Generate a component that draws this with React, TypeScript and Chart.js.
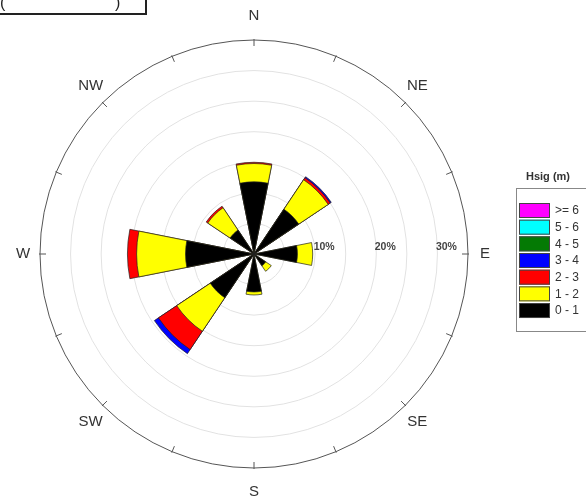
import React, { useEffect, useRef } from 'react';
import { Chart, registerables } from 'chart.js';

Chart.register(...registerables);

// ---- data ----
const directions = ['N', 'NE', 'E', 'SE', 'S', 'SW', 'W', 'NW'];
const sectorLabels = ['N', 'NNE', 'NE', 'ENE', 'E', 'ESE', 'SE', 'SSE', 'S', 'SSW', 'SW', 'WSW', 'W', 'WNW', 'NW', 'NNW'];
const classLabels = ['0 - 1', '1 - 2', '2 - 3', '3 - 4', '4 - 5', '5 - 6', '>= 6'];
const classColors = ['#000000', '#FFFF00', '#FF0000', '#0000FF', '#047A04', '#00FFFF', '#FF00FF'];
// percent of occurrence per direction (N, NE, E, SE, S, SW, W, NW)
const hs0to1 = [11.8, 8.8, 7.1, 2.3, 6.2, 8.6, 11.2, 4.7];
const hs1to2 = [3.0, 5.8, 2.5, 1.1, 0.5, 6.6, 8.0, 4.4];
const hs2to3 = [0.2, 0.4, 0, 0, 0, 3.6, 1.5, 0.3];
const hs3to4 = [0, 0.2, 0, 0, 0, 0.8, 0, 0];
const hs4to5 = [0, 0, 0, 0, 0, 0, 0, 0];
const hs5to6 = [0, 0, 0, 0, 0, 0, 0, 0];
const hs6plus = [0, 0, 0, 0, 0, 0, 0, 0];
const percentTicks = [10, 20, 30];
const rMax = 35;
const legendTitle = 'Hsig (m)';

const classValues = [hs0to1, hs1to2, hs2to3, hs3to4, hs4to5, hs5to6, hs6plus];

const FONT = '"Liberation Sans", Arial, Helvetica, sans-serif';

function buildDatasets() {
  return classValues.map((vals, c) => {
    const data: number[] = [];
    directions.forEach((_, d) => {
      let cum = 0;
      for (let k = 0; k <= c; k++) cum += classValues[k][d];
      data.push(vals[d] > 0 ? cum : 0);
      data.push(0);
    });
    return {
      label: classLabels[c],
      data,
      backgroundColor: classColors[c],
      borderColor: '#222222',
      borderWidth: 0.7,
    };
  });
}

const decorPlugin = {
  id: 'roseDecor',
  afterDraw(chart: any) {
    const ctx = chart.ctx as CanvasRenderingContext2D;
    const s = chart.scales.r;
    const cx = s.xCenter;
    const cy = s.yCenter;
    const R = s.drawingArea;
    ctx.save();
    // outer ticks every 22.5 deg
    ctx.strokeStyle = '#555';
    ctx.lineWidth = 1;
    for (let k = 0; k < 16; k++) {
      const a = (k * Math.PI) / 8;
      const sx = Math.sin(a);
      const sy = -Math.cos(a);
      ctx.beginPath();
      ctx.moveTo(cx + sx * (R + 1), cy + sy * (R + 1));
      ctx.lineTo(cx + sx * (R - 6), cy + sy * (R - 6));
      ctx.stroke();
    }
    // compass labels
    ctx.fillStyle = '#333';
    ctx.font = `15px ${FONT}`;
    ctx.textAlign = 'center';
    ctx.textBaseline = 'middle';
    directions.forEach((d, i) => {
      const a = (i * Math.PI) / 4;
      ctx.fillText(d, cx + Math.sin(a) * 231, cy - Math.cos(a) * 238);
    });
    // percent labels
    ctx.font = `bold 10.5px ${FONT}`;
    ctx.fillStyle = '#444';
    percentTicks.forEach((v) => {
      const r = s.getDistanceFromCenterForValue(v);
      ctx.fillText(`${v}%`, cx + r + 9, cy - 7);
    });
    // legend
    ctx.font = `bold 11px ${FONT}`;
    ctx.fillStyle = '#333';
    ctx.fillText(legendTitle, 548, 177);
    ctx.strokeStyle = '#888';
    ctx.strokeRect(516.5, 188.5, 90, 143);
    ctx.textAlign = 'left';
    ctx.font = `12px ${FONT}`;
    for (let i = 0; i < classLabels.length; i++) {
      const c = classLabels.length - 1 - i;
      const y = 203 + i * 16.67;
      ctx.fillStyle = classColors[c];
      ctx.fillRect(519, y, 31, 15);
      ctx.strokeStyle = '#444';
      ctx.strokeRect(519.5, y + 0.5, 30, 14);
      ctx.fillStyle = '#333';
      ctx.fillText(classLabels[c], 555, y + 8);
    }
    ctx.restore();
  },
};

export default function App() {
  const ref = useRef<HTMLCanvasElement>(null);
  useEffect(() => {
    document.body.style.margin = '0';
    const chart = new Chart(ref.current as HTMLCanvasElement, {
      type: 'polarArea',
      data: { labels: sectorLabels, datasets: buildDatasets() as any },
      options: {
        responsive: false,
        animation: false,
        layout: { padding: { left: 40, right: 118, top: 40, bottom: 32 } },
        plugins: { legend: { display: false }, tooltip: { enabled: false } },
        scales: {
          r: {
            min: 0,
            max: rMax,
            startAngle: -11.25,
            ticks: { display: false, stepSize: 5 },
            angleLines: { display: false },
            pointLabels: { display: false },
            grid: {
              circular: true,
              color: (ctx: any) => (ctx.tick && ctx.tick.value === rMax ? '#555555' : '#e2e2e2'),
              lineWidth: 1,
            },
          },
        },
      } as any,
      plugins: [decorPlugin],
    });
    return () => chart.destroy();
  }, []);
  return (
    <div style={{ position: 'relative', width: 586, height: 500, overflow: 'hidden', background: '#fff' }}>
      <canvas ref={ref} width={586} height={500} style={{ position: 'absolute', left: 0, top: 0 }} />
      <div
        style={{
          position: 'absolute',
          left: -4,
          top: -26,
          width: 147,
          height: 37,
          border: '2px solid #222',
          fontFamily: FONT,
          fontSize: 16,
          color: '#222',
        }}
      >
        <span style={{ position: 'absolute', left: 2, top: 18 }}>(</span>
        <span style={{ position: 'absolute', left: 117, top: 18 }}>)</span>
      </div>
    </div>
  );
}
